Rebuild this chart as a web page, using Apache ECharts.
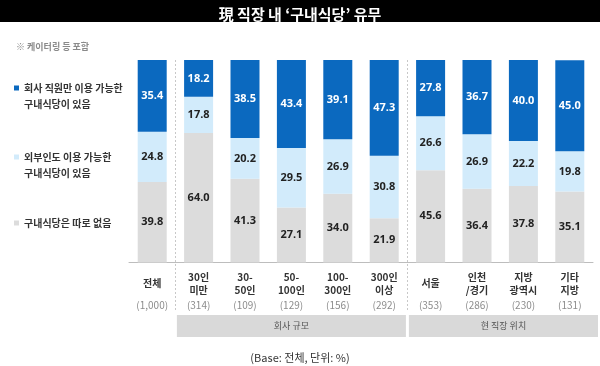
<!DOCTYPE html>
<html><head><meta charset="utf-8">
<script src="https://cdn.jsdelivr.net/npm/echarts@6/dist/echarts.min.js"></script>
<style>html,body{margin:0;padding:0;background:#fff}#c{width:600px;height:366px}</style>
</head><body><div id="c"></div>
<script>
const categories = ['전체', '30인\n미만', '30-\n50인', '50-\n100인', '100-\n300인', '300인\n이상', '서울', '인천\n/경기', '지방\n광역시', '기타\n지방'];
const baseCounts = ['(1,000)', '(314)', '(109)', '(129)', '(156)', '(292)', '(353)', '(286)', '(230)', '(131)'];
const seriesNames = ['구내식당은 따로 없음', '외부인도 이용 가능한 구내식당이 있음', '회사 직원만 이용 가능한 구내식당이 있음'];
const noCafeteria = [39.8, 64.0, 41.3, 27.1, 34.0, 21.9, 45.6, 36.4, 37.8, 35.1];
const openCafeteria = [24.8, 17.8, 20.2, 29.5, 26.9, 30.8, 26.6, 26.9, 22.2, 19.8];
const staffOnly = [35.4, 18.2, 38.5, 43.4, 39.1, 47.3, 27.8, 36.7, 40.0, 45.0];
const groupLabels = ['회사 규모', '현 직장 위치'];
const groupRanges = [[1, 5], [6, 9]];

const legendText = {
  '회사 직원만 이용 가능한 구내식당이 있음': ' \n회사 직원만 이용 가능한\n구내식당이 있음',
  '외부인도 이용 가능한 구내식당이 있음': ' \n외부인도 이용 가능한\n구내식당이 있음',
  '구내식당은 따로 없음': '구내식당은 따로 없음'
};
const colors = ['#dcdcdc', '#d2ebfb', '#0b69bf'];
const numFont = '"Open Sans", sans-serif';
const krFont = '"Noto Sans CJK KR", sans-serif';

const chart = echarts.init(document.getElementById('c'));
function mkSeries(i, data) {
  return {
    name: seriesNames[i], type: 'bar', stack: 't', data: data, barWidth: 29,
    itemStyle: { color: colors[i] },
    label: { show: true, position: 'inside', formatter: p => p.value.toFixed(1),
      color: i === 2 ? '#fff' : '#222', fontWeight: 'bold', fontSize: 11, fontFamily: numFont }
  };
}
function mkLegend(name, top) {
  return {
    data: [name], left: 14, top: top, icon: 'rect', itemWidth: 5, itemHeight: 5,
    selectedMode: false, padding: 0,
    formatter: n => legendText[n],
    textStyle: { fontSize: 10, fontWeight: 'bold', color: '#333', fontFamily: krFont, lineHeight: 16 }
  };
}
const option = {
  animation: false,
  grid: { left: 129, right: 7, top: 60, bottom: 103.5 },
  title: [
    { text: '現 직장 내 ‘구내식당’ 유무', left: 'center', top: 2,
      textStyle: { color: '#fff', fontSize: 15, fontWeight: 'bold', fontFamily: krFont } },
    { text: '※ 케이터링 등 포함', left: 11, top: 37,
      textStyle: { color: '#8a8a8a', fontSize: 9, fontWeight: 'bold', fontFamily: krFont } },
    { text: '(Base: 전체, 단위: %)', left: 'center', top: 347,
      textStyle: { color: '#333', fontSize: 11, fontWeight: 'normal', fontFamily: krFont } }
  ],
  legend: [
    mkLegend(seriesNames[2], 64),
    mkLegend(seriesNames[1], 133),
    mkLegend(seriesNames[0], 215)
  ],
  xAxis: {
    type: 'category', data: categories,
    axisLine: { lineStyle: { color: '#bdbdbd', width: 1 } },
    axisTick: { show: false },
    axisLabel: {
      interval: 0, margin: 8,
      formatter: (v, i) => {
        const parts = v.split('\n');
        const top = parts.length === 1 ? '{s|' + parts[0] + '}' : parts.map(p => '{n|' + p + '}').join('\n');
        return top + '\n{c|' + baseCounts[i] + '}';
      },
      rich: {
        n: { fontSize: 10, fontWeight: 'bold', color: '#333', lineHeight: 13, fontFamily: krFont },
        s: { fontSize: 10, fontWeight: 'bold', color: '#333', lineHeight: 26, fontFamily: krFont },
        c: { fontSize: 10, color: '#8c8c8c', lineHeight: 17, fontFamily: krFont }
      }
    }
  },
  yAxis: { type: 'value', min: 0, max: 100, show: false },
  series: [mkSeries(0, noCafeteria), mkSeries(1, openCafeteria), mkSeries(2, staffOnly)]
};
chart.setOption(option);

// decorations positioned through the axis scale
const half = (chart.convertToPixel({ xAxisIndex: 0 }, categories[1]) - chart.convertToPixel({ xAxisIndex: 0 }, categories[0])) / 2;
const cx = i => chart.convertToPixel({ xAxisIndex: 0 }, categories[i]);
const graphics = [
  { type: 'rect', shape: { x: 0, y: 0, width: 600, height: 22 }, style: { fill: '#000' }, z: -1 }
];
[1, 6].forEach(i => {
  const x = Math.round(cx(i) - half) + 0.5;
  graphics.push({ type: 'line', shape: { x1: x, y1: 60, x2: x, y2: 312 },
    style: { stroke: '#c8c8c8', lineWidth: 1, lineDash: [2, 2] }, z: 5 });
});
groupRanges.forEach((r, k) => {
  const x1 = cx(r[0]) - half + 1.5;
  const x2 = k === groupRanges.length - 1 ? 598 : cx(r[1]) + half - 1.5;
  graphics.push({ type: 'rect', shape: { x: x1, y: 315, width: x2 - x1, height: 22 }, style: { fill: '#d9d9d9' } });
  graphics.push({ type: 'text', x: (x1 + x2) / 2, y: 326,
    style: { text: groupLabels[k], align: 'center', verticalAlign: 'middle', fill: '#555', fontSize: 9, fontFamily: krFont } });
});
chart.setOption({ graphic: graphics });
</script></body></html>
